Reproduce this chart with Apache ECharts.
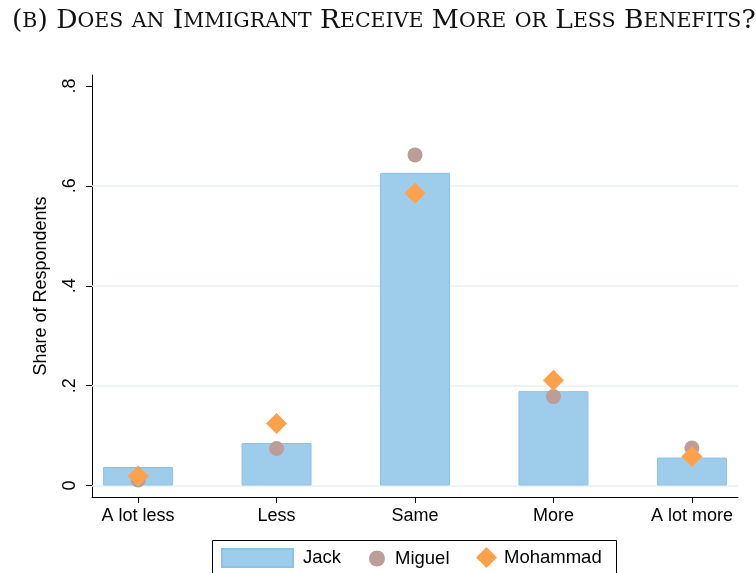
<!DOCTYPE html>
<html>
<head>
<meta charset="utf-8">
<script src="https://cdn.jsdelivr.net/npm/echarts@6/dist/echarts.min.js"></script>
<style>
  html, body { margin: 0; padding: 0; background: #fff; }
  #chart { width: 756px; height: 573px; }
</style>
</head>
<body>
<div id="chart"></div>
<script>
var titleText = '(b) Does an Immigrant Receive More or Less Benefits?';
var categories = ['A lot less', 'Less', 'Same', 'More', 'A lot more'];
var jack = [0.037, 0.085, 0.626, 0.189, 0.056];
var miguel = [0.011, 0.074, 0.662, 0.178, 0.075];
var mohammad = [0.019, 0.124, 0.585, 0.211, 0.058];
var yTicks = [0, 0.2, 0.4, 0.6, 0.8];
var yTickLabels = ['0', '.2', '.4', '.6', '.8'];
var gridValues = [0, 0.2, 0.4, 0.6];

// small caps by hand: lower case letters drawn as smaller capitals
function smallCaps(s) {
    var out = '', run = '', kind = null;
    for (var i = 0; i < s.length; i++) {
        var c = s[i];
        var k = (c >= 'a' && c <= 'z') ? 's' : 'b';
        if (k !== kind && run) { out += '{' + kind + '|' + run + '}'; run = ''; }
        kind = k;
        run += k === 's' ? c.toUpperCase() : c;
    }
    if (run) out += '{' + kind + '|' + run + '}';
    return out;
}

function pairs(vals) {
    return vals.map(function (v, i) { return [i + 1, v]; });
}

var myChart = echarts.init(document.getElementById('chart'));
var font = 'Liberation Sans';
var option = {
    animation: false,
    title: {
        text: smallCaps(titleText),
        left: 7,
        top: 3,
        textStyle: {
            fontWeight: 'normal',
            rich: {
                b: { fontFamily: 'DejaVu Serif', fontWeight: 'normal', fontSize: 26.5, color: '#111' },
                s: { fontFamily: 'DejaVu Serif', fontWeight: 'normal', fontSize: 20.5, color: '#111' }
            }
        }
    },
    grid: { left: 92, right: 18, top: 75, bottom: 76 },
    xAxis: {
        type: 'value',
        min: 0.667,
        max: 5.333,
        axisLine: { onZero: false, lineStyle: { color: '#000', width: 1 } },
        axisTick: { customValues: [1, 2, 3, 4, 5], length: 6, lineStyle: { color: '#000' } },
        axisLabel: {
            customValues: [1, 2, 3, 4, 5],
            formatter: function (v) { return categories[Math.round(v) - 1]; },
            color: '#000', fontFamily: font, fontSize: 18, margin: 10
        },
        splitLine: { show: false }
    },
    yAxis: {
        type: 'value',
        min: -0.023,
        max: 0.822,
        name: 'Share of Respondents',
        nameLocation: 'middle',
        nameGap: 42,
        nameTextStyle: { color: '#000', fontFamily: font, fontSize: 18 },
        axisLine: { show: true, onZero: false, lineStyle: { color: '#000', width: 1 } },
        axisTick: { customValues: yTicks, length: 6, lineStyle: { color: '#000' } },
        axisLabel: {
            customValues: yTicks,
            formatter: function (v) {
                var i = yTicks.indexOf(Math.round(v * 10) / 10);
                return i >= 0 ? yTickLabels[i] : '';
            },
            rotate: 90,
            color: '#000', fontFamily: font, fontSize: 18, margin: 13
        },
        splitLine: { show: false }
    },
    legend: [
        { data: [{ name: 'Jack', icon: 'rect' }], left: 221, top: 548, padding: 0,
          itemWidth: 71, itemHeight: 18,
          textStyle: { color: '#000', fontFamily: font, fontSize: 18.5, padding: [0, 0, 0, 5] } },
        { data: [{ name: 'Miguel', icon: 'circle' }], left: 369, top: 549, padding: 0,
          itemWidth: 16, itemHeight: 16,
          textStyle: { color: '#000', fontFamily: font, fontSize: 18.5, padding: [0, 0, 0, 5] } },
        { data: [{ name: 'Mohammad', icon: 'diamond' }], left: 476, top: 547, padding: 0,
          itemWidth: 21, itemHeight: 21,
          textStyle: { color: '#000', fontFamily: font, fontSize: 18.5, padding: [0, 0, 0, 2] } }
    ],
    graphic: [{
        type: 'rect',
        shape: { x: 212.5, y: 540.5, width: 404, height: 40 },
        style: { fill: 'none', stroke: '#000', lineWidth: 1 },
        silent: true
    }],
    series: [
        {
            name: 'grid',
            type: 'line',
            data: [],
            z: 1,
            silent: true,
            markLine: {
                z: 1,
                silent: true,
                symbol: 'none',
                label: { show: false },
                lineStyle: { color: '#e9f1f3', type: 'solid', width: 1.5 },
                data: gridValues.map(function (v) { return { yAxis: v }; })
            }
        },
        {
            name: 'Jack',
            type: 'bar',
            z: 2,
            barWidth: 70,
            data: pairs(jack),
            itemStyle: { color: '#9dcdeb', borderColor: '#8cc2e8', borderWidth: 1 }
        },
        {
            name: 'Miguel',
            type: 'scatter',
            z: 3,
            symbol: 'circle',
            symbolSize: 15,
            data: pairs(miguel),
            itemStyle: { color: '#bc9d98', opacity: 1 }
        },
        {
            name: 'Mohammad',
            type: 'scatter',
            z: 4,
            symbol: 'diamond',
            symbolSize: 21,
            data: pairs(mohammad),
            itemStyle: { color: '#ffa14b', opacity: 1 }
        }
    ]
};
myChart.setOption(option);
window.addEventListener('resize', function () {
    myChart.resize();
});
</script>
</body>
</html>
